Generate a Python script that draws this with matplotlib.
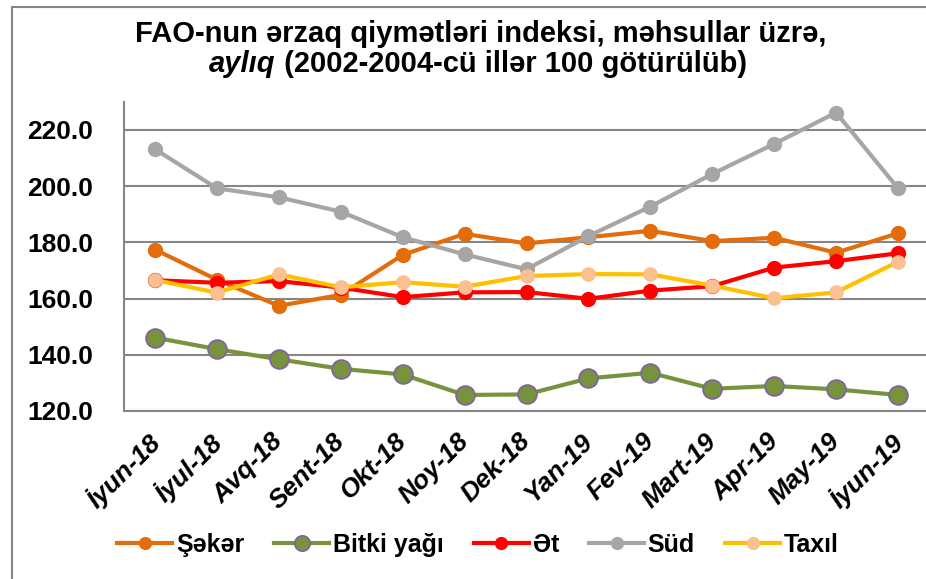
import matplotlib
matplotlib.use("Agg")
import matplotlib.pyplot as plt
import matplotlib.transforms as mtransforms
from matplotlib.patches import Rectangle
from matplotlib.lines import Line2D

months = ["İyun-18", "İyul-18", "Avq-18", "Sent-18", "Okt-18", "Noy-18", "Dek-18",
          "Yan-19", "Fev-19", "Mart-19", "Apr-19", "May-19", "İyun-19"]
seker = [177.4, 166.7, 157.4, 161.3, 175.5, 183.0, 179.6, 181.8, 184.1, 180.4, 181.6, 176.3, 183.2]
bitki = [146.1, 142.0, 138.4, 135.0, 133.0, 125.7, 125.9, 131.6, 133.6, 127.9, 128.9, 127.7, 125.7]
et = [166.5, 165.6, 166.2, 163.9, 160.5, 162.2, 162.3, 159.9, 162.8, 164.4, 171.0, 173.3, 176.1]
sud = [213.1, 199.2, 196.0, 190.9, 181.8, 175.7, 170.4, 182.2, 192.7, 204.3, 215.0, 226.1, 199.2]
taxil = [166.6, 162.1, 168.6, 164.0, 165.8, 164.2, 168.0, 168.7, 168.6, 164.6, 160.1, 162.2, 173.1]
series_names = ["Şəkər", "Bitki yağı", "Ət", "Süd", "Taxıl"]
yticks = [120, 140, 160, 180, 200, 220]

plt.rcParams['font.family'] = ['Liberation Sans', 'DejaVu Sans']

W, H = 926, 579
fig = plt.figure(figsize=(W / 100, H / 100), dpi=100)
fig.patch.set_facecolor("white")

# outer chart border (cropped at right/bottom)
fig.add_artist(Rectangle((12 / W, -0.05), 1.2, 1 - 7 / H + 0.05, transform=fig.transFigure,
                         fill=False, edgecolor="#868686", linewidth=1.5))

ax = fig.add_axes([124 / W, 1 - 411 / H, 805 / W, (411 - 101.7) / H])
x = list(range(len(months)))

styles = [
    (seker, dict(color="#E46C0A", marker="o", markersize=10, markerfacecolor="#E46C0A", markeredgecolor="#E46C0A")),
    (bitki, dict(color="#77933C", marker="o", markersize=13.5, markerfacecolor="#77933C", markeredgecolor="#8064A2", markeredgewidth=1.3)),
    (et, dict(color="#FF0000", marker="o", markersize=10, markerfacecolor="#FF0000", markeredgecolor="#FF0000")),
    (sud, dict(color="#A6A6A6", marker="o", markersize=10, markerfacecolor="#A6A6A6", markeredgecolor="#A6A6A6")),
    (taxil, dict(color="#FFC000", marker="o", markersize=9.5, markerfacecolor="#FAC090", markeredgecolor="#FAC090")),
]
for i, ((vals, st), name) in enumerate(zip(styles, series_names)):
    ax.plot(x, vals, linewidth=3, label=name, zorder=3 + i, clip_on=False, **st)

ax.set_xlim(-0.5, len(months) - 0.5)
ax.set_ylim(120, 230)
ax.set_yticks(yticks)
ax.set_yticklabels([f"{v:.1f}" for v in yticks], fontsize=19, fontweight="bold")
ax.yaxis.grid(True, color="#868686", linewidth=1.5)
ax.set_axisbelow(True)
for s in ["top", "right"]:
    ax.spines[s].set_visible(False)
for s in ["left", "bottom"]:
    ax.spines[s].set_color("#868686")
    ax.spines[s].set_linewidth(1.5)
ax.tick_params(axis="y", length=0, pad=22)
ax.tick_params(axis="x", length=0, pad=13)
ax.set_xticks(x)
ax.set_xticklabels(months, fontsize=19, fontweight="bold", fontstyle="italic",
                   rotation=45, ha="right", rotation_mode="anchor")
offset = mtransforms.ScaledTranslation(-8 / 72 * 0.72, 0, fig.dpi_scale_trans)
for lab in ax.get_xticklabels():
    lab.set_transform(lab.get_transform() + offset)

# title
TS = 21
CX = 481
fig.text(CX / W, 1 - 42 / H, "FAO-nun ərzaq qiymətləri indeksi, məhsullar üzrə,",
         ha="center", va="baseline", fontsize=TS, fontweight="bold")
renderer = fig.canvas.get_renderer()
t1 = fig.text(0, 1 - 72 / H, "aylıq", ha="left", va="baseline", fontsize=TS,
              fontweight="bold", fontstyle="italic")
t2 = fig.text(0, 1 - 72 / H, " (2002-2004-cü illər 100 götürülüb)", ha="left", va="baseline",
              fontsize=TS, fontweight="bold")
w1 = t1.get_window_extent(renderer).width
w2 = t2.get_window_extent(renderer).width
start = (478 - (w1 + w2) / 2)
t1.set_x(start / W)
t2.set_x((start + w1) / W)

handles = []
leg_ms = [8.5, 11, 8.5, 8.5, 8.5]
for (vals, st), name, ms in zip(styles, series_names, leg_ms):
    st2 = dict(st)
    st2["markersize"] = ms
    handles.append(Line2D([], [], linewidth=3, **st2))
fig.legend(handles, series_names, loc="center", bbox_to_anchor=(478 / W, 1 - 545 / H),
           ncol=5, frameon=False, prop=dict(size=18, weight="bold"),
           handlelength=2.2, handletextpad=0.15, columnspacing=1.2)

fig.savefig("out.png", dpi=100, facecolor="white")
